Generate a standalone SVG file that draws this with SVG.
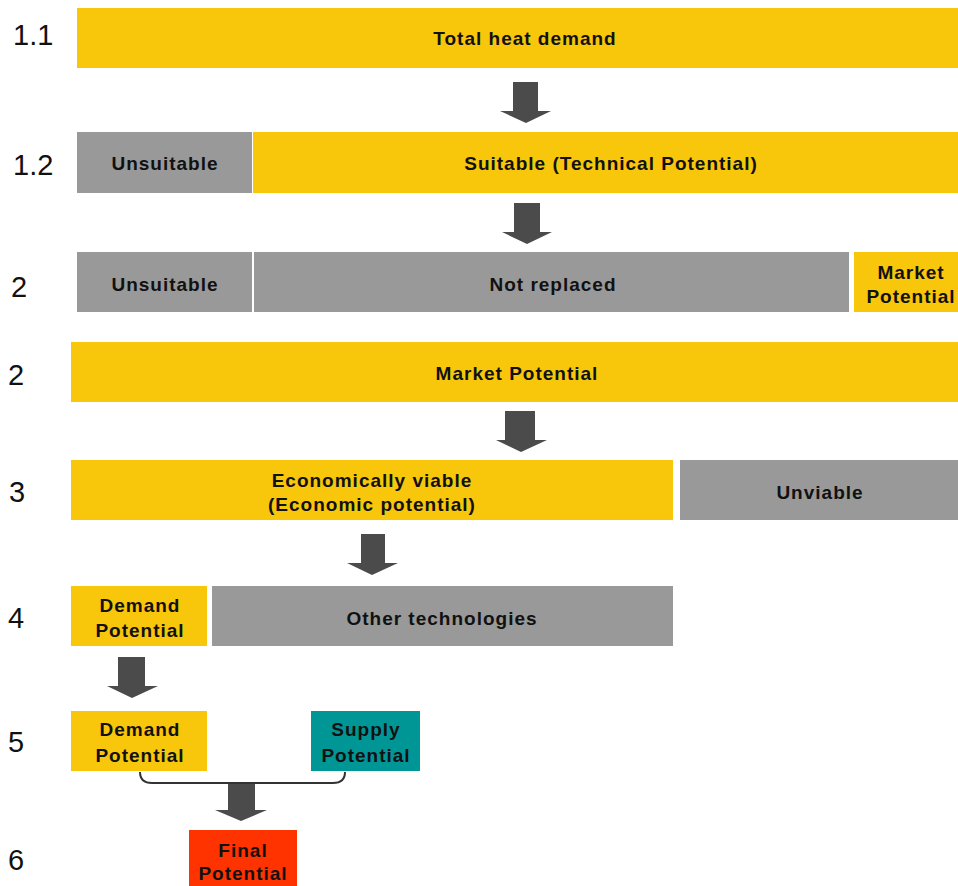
<svg xmlns="http://www.w3.org/2000/svg" width="958" height="886" viewBox="0 0 958 886">
<style>
.y{fill:#F8C60A}
.g{fill:#999999}
.t{fill:#009696}
.r{fill:#FF3300}
.lb{font-family:"Liberation Sans",Arial,sans-serif;font-weight:bold;font-size:19px;letter-spacing:1px;fill:#111;text-anchor:middle}
.rn{font-family:"Liberation Sans",Arial,sans-serif;font-size:29px;fill:#111}
.ar{fill:#4B4B4B}
</style>
<rect width="958" height="886" fill="#fff"/>
<g id="row-labels">
<text class="rn" x="13" y="45">1.1</text>
<text class="rn" x="13" y="175">1.2</text>
<text class="rn" x="11" y="297">2</text>
<text class="rn" x="8" y="385">2</text>
<text class="rn" x="9" y="502">3</text>
<text class="rn" x="8" y="628">4</text>
<text class="rn" x="8" y="752">5</text>
<text class="rn" x="8" y="870">6</text>
</g>
<g id="total-heat-demand"><rect class="y" x="77" y="8" width="881" height="60"/><text class="lb" x="525" y="45">Total heat demand</text></g>
<g id="unsuitable-1"><rect class="g" x="77" y="132" width="175" height="61"/><text class="lb" x="165" y="170">Unsuitable</text></g>
<g id="suitable"><rect class="y" x="253" y="132" width="705" height="61"/><text class="lb" x="611" y="170">Suitable (Technical Potential)</text></g>
<g id="unsuitable-2"><rect class="g" x="77" y="252" width="175" height="60"/><text class="lb" x="165" y="291">Unsuitable</text></g>
<g id="not-replaced"><rect class="g" x="254" y="252" width="595" height="60"/><text class="lb" x="553" y="291">Not replaced</text></g>
<g id="market-potential-small"><rect class="y" x="854" y="252" width="104" height="60"/><text class="lb" x="911" y="279">Market</text><text class="lb" x="911" y="303">Potential</text></g>
<g id="market-potential"><rect class="y" x="71" y="342" width="887" height="60"/><text class="lb" x="517" y="380">Market Potential</text></g>
<g id="economically-viable"><rect class="y" x="71" y="460" width="602" height="60"/><text class="lb" x="372" y="487">Economically viable</text><text class="lb" x="372" y="511">(Economic potential)</text></g>
<g id="unviable"><rect class="g" x="680" y="460" width="278" height="60"/><text class="lb" x="820" y="499">Unviable</text></g>
<g id="demand-potential-4"><rect class="y" x="71" y="586" width="136" height="60"/><text class="lb" x="140" y="612">Demand</text><text class="lb" x="140" y="637">Potential</text></g>
<g id="other-technologies"><rect class="g" x="212" y="586" width="461" height="60"/><text class="lb" x="442" y="625">Other technologies</text></g>
<g id="demand-potential-5"><rect class="y" x="71" y="711" width="136" height="60"/><text class="lb" x="140" y="736">Demand</text><text class="lb" x="140" y="762">Potential</text></g>
<g id="supply-potential"><rect class="t" x="311" y="711" width="109" height="60"/><text class="lb" x="366" y="736">Supply</text><text class="lb" x="366" y="762">Potential</text></g>
<g id="final-potential"><rect class="r" x="189" y="830" width="108" height="56"/><text class="lb" x="243" y="857">Final</text><text class="lb" x="243" y="880">Potential</text></g>
<g id="connectors">
<polygon class="ar" points="513,82 538,82 538,111 551,111 526,123 500,111 513,111"/>
<polygon class="ar" points="514,203 540,203 540,232 552,232 527,244 502,232 514,232"/>
<polygon class="ar" points="505,411 535,411 535,440 547,440 521,452 496,440 505,440"/>
<polygon class="ar" points="361,534 385,534 385,563 398,563 372,575 347,563 361,563"/>
<polygon class="ar" points="118,657 145,657 145,686 158,686 132,698 107,686 118,686"/>
<path d="M140,772 Q140,783 152,783 L333,783 Q345,783 345,772" fill="none" stroke="#333" stroke-width="2"/>
<polygon class="ar" points="228,784 255,784 255,810 267,810 241,821 215,810 228,810"/>
</g>
</svg>
